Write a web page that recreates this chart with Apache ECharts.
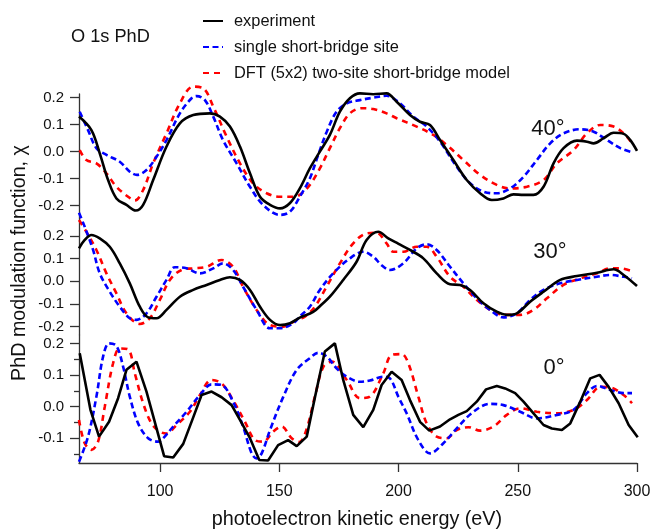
<!DOCTYPE html>
<html>
<head>
<meta charset="utf-8">
<script src="https://cdn.jsdelivr.net/npm/echarts@6/dist/echarts.min.js"></script>
<style>html,body{margin:0;padding:0;background:#fff}#c{width:660px;height:531px}</style>
</head>
<body>
<div id="c"></div>
<script>
// ---- data (photoelectron kinetic energy [eV], chi) ----
const seriesNames = ['experiment', 'single short-bridge site', 'DFT (5x2) two-site short-bridge model'];
const panelLabels = ['40°', '30°', '0°'];
const xTicks = [100, 150, 200, 250, 300];
const yTicks = [-0.2, -0.1, 0.0, 0.1, 0.2];
const yTicksBottom = [-0.1, 0.0, 0.1, 0.2];
const yMinorBottom = [-0.15, -0.05, 0.05, 0.15];

const exp40 = [[66,0.13],[71.2,0.08],[74.7,-0.006],[78.2,-0.105],[81.7,-0.173],[85.9,-0.197],[89.8,-0.218],[92.9,-0.197],[97.1,-0.105],[102.7,0.019],[108.3,0.105],[113.9,0.136],[120.9,0.142],[125.1,0.13],[129.3,0.093],[133.5,0.019],[137.7,-0.08],[141.9,-0.167],[146.1,-0.197],[150.3,-0.21],[154.5,-0.19],[158.6,-0.136],[162.8,-0.062],[167,0.0],[171.2,0.062],[175.4,0.148],[179.6,0.198],[183.8,0.216],[189.4,0.213],[195,0.216],[199.2,0.185],[204.8,0.136],[209,0.111],[213.2,0.099],[217.4,0.043],[223,-0.031],[228.6,-0.105],[234.2,-0.154],[239.1,-0.179],[244,-0.173],[248.2,-0.158],[252.4,-0.16],[256.6,-0.16],[260.8,-0.13],[265,-0.043],[269.2,0.013],[274.8,0.041],[279,0.037],[281.8,0.031],[286,0.05],[290.2,0.07],[294.4,0.066],[297.2,0.043],[300,0.003]];
const ssb40 = [[66.3,0.148],[69.8,0.08],[73.3,0.013],[77.5,-0.012],[83.1,-0.037],[87.3,-0.074],[90.3,-0.086],[94.3,-0.068],[98.5,-0.019],[102.7,0.043],[108.3,0.142],[113.2,0.198],[115.3,0.206],[118.8,0.191],[122.3,0.13],[126.4,0.043],[132.1,-0.043],[137.7,-0.13],[143.2,-0.197],[150.3,-0.234],[154.5,-0.222],[158.6,-0.167],[162.8,-0.099],[166.3,-0.012],[169.9,0.074],[174,0.148],[178.3,0.179],[183.8,0.191],[189.4,0.2],[195,0.207],[200.6,0.179],[206.2,0.13],[211.8,0.093],[217.4,0.037],[224.4,-0.056],[230,-0.117],[235.6,-0.148],[241.2,-0.154],[246.8,-0.136],[252.4,-0.093],[258,-0.031],[263.6,0.031],[269.2,0.068],[276.2,0.083],[281.8,0.074],[287.4,0.043],[293,0.013],[297.2,0.0]];
const dft40 = [[66.3,0.006],[69.1,-0.031],[73.3,-0.043],[77.5,-0.08],[81.7,-0.13],[86.6,-0.167],[89.4,-0.181],[92.9,-0.142],[97.1,-0.043],[102.7,0.068],[108.3,0.179],[113.9,0.241],[118.1,0.235],[122.3,0.167],[127.9,0.056],[133.5,-0.043],[139,-0.117],[144.7,-0.154],[150.3,-0.167],[155.8,-0.167],[158.6,-0.16],[162.8,-0.123],[167,-0.062],[171.2,0.013],[175.4,0.087],[179.6,0.142],[184.5,0.161],[189.4,0.158],[195,0.142],[199.2,0.124],[207.6,0.093],[214.6,0.062],[220.2,0.025],[227.2,-0.031],[234.2,-0.086],[241.2,-0.123],[246.8,-0.136],[253.8,-0.13],[260.8,-0.105],[266.4,-0.043],[273.4,0.006],[279,0.068],[284.6,0.099],[290.2,0.093],[294.4,0.068],[297.9,0.031]];

const exp30 = [[66,0.145],[68.4,0.182],[71.2,0.204],[74.7,0.189],[78.9,0.152],[83.1,0.079],[87.3,-0.009],[91.5,-0.112],[95,-0.159],[98.5,-0.163],[102.7,-0.126],[108.3,-0.068],[113.9,-0.038],[119.5,-0.016],[125.1,0.006],[129.3,0.018],[133.5,0.006],[137.7,-0.038],[141.9,-0.112],[146.1,-0.17],[150.3,-0.193],[154.5,-0.185],[158.6,-0.16],[164.2,-0.135],[168,-0.1],[171.2,-0.068],[176.8,0.006],[182.4,0.086],[186.6,0.182],[191.5,0.218],[195.7,0.189],[200,0.165],[204.8,0.138],[210.4,0.101],[216,0.035],[221.6,-0.013],[225.8,-0.016],[230,-0.038],[235.6,-0.097],[241.2,-0.134],[245.4,-0.148],[249.6,-0.141],[255.2,-0.09],[260.8,-0.046],[267.8,0.006],[274.8,0.023],[283.2,0.038],[290.2,0.053],[294.4,0.028],[300,-0.021]];
const ssb30 = [[66,0.302],[68.4,0.24],[71.9,0.138],[74.7,0.035],[78.9,-0.046],[83.1,-0.112],[87.3,-0.163],[90.1,-0.17],[94.3,-0.141],[98.5,-0.068],[102.7,0.006],[106.2,0.062],[111.1,0.057],[116.7,0.035],[122.3,0.057],[126.4,0.079],[130.6,0.05],[134.8,-0.024],[140.5,-0.126],[146.1,-0.207],[150.3,-0.207],[155.8,-0.185],[158.6,-0.155],[162.8,-0.112],[167,-0.038],[172.6,0.035],[179.6,0.101],[185.2,0.13],[189.4,0.108],[193,0.07],[196.4,0.05],[202,0.079],[207.6,0.145],[211.8,0.163],[216,0.138],[221.6,0.064],[227.2,-0.009],[232.8,-0.075],[238.4,-0.126],[244,-0.159],[249.6,-0.141],[255.2,-0.082],[260.8,-0.038],[267.8,-0.009],[274.8,0.006],[283.2,0.02],[288.8,0.028],[294.4,0.02],[297.9,0.013]];
const dft30 = [[66,0.27],[69.1,0.218],[73.3,0.138],[77.5,0.035],[81.7,-0.053],[85.9,-0.141],[91.5,-0.188],[95.7,-0.163],[99.9,-0.082],[104.1,0.006],[109,0.05],[113.9,0.057],[119.5,0.064],[125.8,0.094],[130.6,0.064],[134.8,-0.024],[140.5,-0.126],[146.1,-0.193],[151.7,-0.2],[157.3,-0.17],[160.7,-0.156],[164.9,-0.112],[169.8,-0.024],[175.4,0.079],[181,0.167],[186.6,0.211],[190.8,0.214],[195,0.167],[197.8,0.13],[202,0.13],[207.6,0.152],[211.8,0.152],[216,0.108],[221.6,0.02],[227.2,-0.024],[232.8,-0.082],[239.8,-0.134],[245.4,-0.148],[251,-0.148],[256.6,-0.126],[262.2,-0.075],[269.2,-0.016],[276.2,0.013],[283.2,0.035],[288.8,0.057],[293,0.057],[297.2,0.047]];

const exp0 = [[66.3,0.17],[70.8,-0.01],[74.4,-0.095],[78.6,-0.048],[82.4,0.027],[85.9,0.117],[90.1,0.143],[94.3,0.048],[101.7,-0.157],[105.5,-0.161],[109.7,-0.118],[113.9,-0.034],[117.4,0.037],[121.6,0.048],[125.8,0.03],[130,0.005],[133.5,-0.042],[137.7,-0.1],[141.6,-0.169],[145.3,-0.171],[149.5,-0.122],[153.7,-0.106],[157.3,-0.125],[161.5,-0.095],[165,0.032],[169.1,0.175],[173.3,0.201],[176.8,0.085],[181,-0.026],[185.2,-0.065],[189.4,-0.01],[192.9,0.069],[197.1,0.111],[201.3,0.085],[204.8,0.021],[209,-0.048],[212.9,-0.076],[217.4,-0.063],[221.6,-0.04],[225.1,-0.026],[228.6,-0.014],[232.8,0.016],[236.7,0.055],[241.2,0.066],[244.7,0.058],[248.9,0.043],[252.4,0.016],[256.6,-0.021],[260.8,-0.058],[264.3,-0.069],[268.5,-0.074],[272,-0.053],[276.2,0.016],[280.4,0.09],[284.3,0.101],[288.1,0.063],[292.3,0.011],[296.5,-0.058],[300.3,-0.097]];
const ssb0 = [[66,-0.175],[69.8,-0.095],[73.3,0.032],[76.1,0.159],[78.6,0.201],[81.7,0.193],[84.5,0.127],[87.3,0.032],[90.8,-0.053],[95,-0.1],[99.2,-0.111],[101.3,-0.1],[105.5,-0.063],[111.1,-0.016],[116.7,0.037],[121.6,0.071],[125.8,0.069],[130.6,0.016],[134.8,-0.063],[138.4,-0.148],[140.5,-0.164],[142.6,-0.148],[146.1,-0.074],[151.7,0.032],[157.3,0.117],[162.8,0.154],[166.3,0.171],[169.9,0.159],[174,0.122],[178.3,0.095],[183.8,0.079],[188,0.083],[193.6,0.095],[196.4,0.09],[199.9,0.032],[203.4,-0.021],[208.3,-0.106],[213.2,-0.148],[218.8,-0.116],[224.4,-0.069],[231.4,-0.016],[238.4,0.009],[244,0.005],[251,-0.016],[258,-0.037],[266.4,-0.026],[273.4,-0.01],[279,0.043],[283.2,0.066],[288.8,0.053],[294.4,0.043],[297.9,0.043]];
const dft0 = [[66,-0.042],[68.4,-0.116],[71.2,-0.137],[74,-0.111],[76.8,0.0],[80.3,0.138],[83.1,0.185],[86.6,0.182],[89.4,0.106],[92.9,0.011],[96.4,-0.053],[99.9,-0.079],[102.7,-0.085],[106.9,-0.058],[112.5,-0.016],[116.7,0.037],[121.6,0.085],[125.8,0.074],[130.6,0.021],[135.6,-0.048],[139.8,-0.106],[143.2,-0.111],[147.4,-0.079],[151,-0.063],[155.2,-0.1],[158.4,-0.112],[161.5,-0.07],[165,0.035],[168.5,0.127],[172,0.143],[178.3,0.085],[183.8,0.027],[188,0.032],[193.6,0.106],[197.1,0.164],[201.3,0.167],[204.1,0.138],[208.3,0.032],[211.8,-0.053],[216,-0.095],[220.2,-0.1],[224.4,-0.074],[229.3,-0.065],[234.2,-0.076],[239.8,-0.063],[245.4,-0.026],[251,-0.005],[258,-0.016],[266.4,-0.021],[273.4,-0.01],[279,0.021],[284.6,0.063],[288.8,0.061],[294.4,0.037],[297.9,0.011]];

// ---- layout ----
const FONT = '"Liberation Sans", Arial, Helvetica, sans-serif';
const L = 79, R = 23;
const panels = [
  {top: 94,  height: 127, min: -0.2567, max: 0.2137, ticks: yTicks, data: [exp40, ssb40, dft40]},
  {top: 221, height: 114, min: -0.2366, max: 0.2656, ticks: yTicks, data: [exp30, ssb30, dft30]},
  {top: 335, height: 128, min: -0.1787, max: 0.2276, ticks: yTicksBottom, data: [exp0, ssb0, dft0]}
];
const styles = [
  {color: '#000000', width: 2.6, type: 'solid'},
  {color: '#0000ff', width: 2.6, type: [6, 3.5]},
  {color: '#ff0000', width: 2.6, type: [6, 5]}
];

const grid = [], xAxis = [], yAxis = [], series = [];
panels.forEach((p, i) => {
  grid.push({left: L, right: R, top: p.top, height: p.height, containLabel: false});
  const isBottom = i === panels.length - 1;
  xAxis.push({
    type: 'value', gridIndex: i, min: 66, max: 300, show: isBottom,
    axisLine: {show: isBottom, onZero: false, lineStyle: {color: '#333', width: 1.3}},
    axisTick: {show: isBottom, length: 9, customValues: xTicks, lineStyle: {color: '#333', width: 1.3}},
    axisLabel: {show: isBottom, customValues: xTicks, fontSize: 16, color: '#111', fontFamily: FONT, margin: 21},
    splitLine: {show: false}
  });
  yAxis.push({
    type: 'value', gridIndex: i, min: p.min, max: p.max,
    axisLine: {show: true, onZero: false, lineStyle: {color: '#333', width: 1.3}},
    axisTick: {show: true, length: 9, customValues: p.ticks, lineStyle: {color: '#333', width: 1.3}},
    axisLabel: {customValues: p.ticks, fontSize: 15, color: '#111', fontFamily: FONT, margin: 15,
      formatter: v => v.toFixed(1)},
    splitLine: {show: false}
  });
  p.data.forEach((d, k) => {
    series.push({
      type: 'line', name: seriesNames[k], xAxisIndex: i, yAxisIndex: i, data: d,
      symbol: 'none', clip: false, silent: true,
      smooth: (isBottom && k === 0) ? false : 0.35,
      lineStyle: styles[k], itemStyle: {color: styles[k].color}, z: 10 - k
    });
  });
});
// minor ticks for bottom panel
yAxis.push({
  type: 'value', gridIndex: 2, min: panels[2].min, max: panels[2].max, position: 'left',
  axisLine: {show: false}, axisLabel: {show: false}, splitLine: {show: false},
  axisTick: {show: true, length: 5, customValues: yMinorBottom, lineStyle: {color: '#333', width: 1.3}}
});

const chart = echarts.init(document.getElementById('c'), null, {renderer: 'canvas'});
chart.setOption({
  animation: false,
  backgroundColor: '#ffffff',
  grid, xAxis, yAxis, series,
  legend: {
    orient: 'vertical', left: 202, top: 13, padding: 0,
    itemWidth: 20, itemHeight: 10, itemGap: 10,
    itemStyle: {opacity: 0},
    data: seriesNames,
    textStyle: {fontSize: 16.4, color: '#111', fontFamily: FONT, lineHeight: 16, padding: [0, 0, 0, 6]}
  },
  graphic: [
    {type: 'text', left: 71, top: 28, style: {text: 'O 1s PhD', fontSize: 18.2, fill: '#111', fontFamily: FONT}},
    {type: 'text', x: 548, y: 129, style: {text: panelLabels[0], fontSize: 22, fill: '#111', fontFamily: FONT, align: 'center', verticalAlign: 'middle'}},
    {type: 'text', x: 550, y: 252, style: {text: panelLabels[1], fontSize: 22, fill: '#111', fontFamily: FONT, align: 'center', verticalAlign: 'middle'}},
    {type: 'text', x: 554, y: 368, style: {text: panelLabels[2], fontSize: 22, fill: '#111', fontFamily: FONT, align: 'center', verticalAlign: 'middle'}},
    {type: 'text', x: 357, y: 520, style: {text: 'photoelectron kinetic energy (eV)', fontSize: 19.8, fill: '#111', fontFamily: FONT, align: 'center', verticalAlign: 'middle'}},
    {type: 'text', x: 20, y: 263, rotation: Math.PI / 2, style: {text: 'PhD modulation function, χ', fontSize: 19.7, fill: '#111', fontFamily: FONT, align: 'center', verticalAlign: 'middle'}}
  ]
});
</script>
</body>
</html>
